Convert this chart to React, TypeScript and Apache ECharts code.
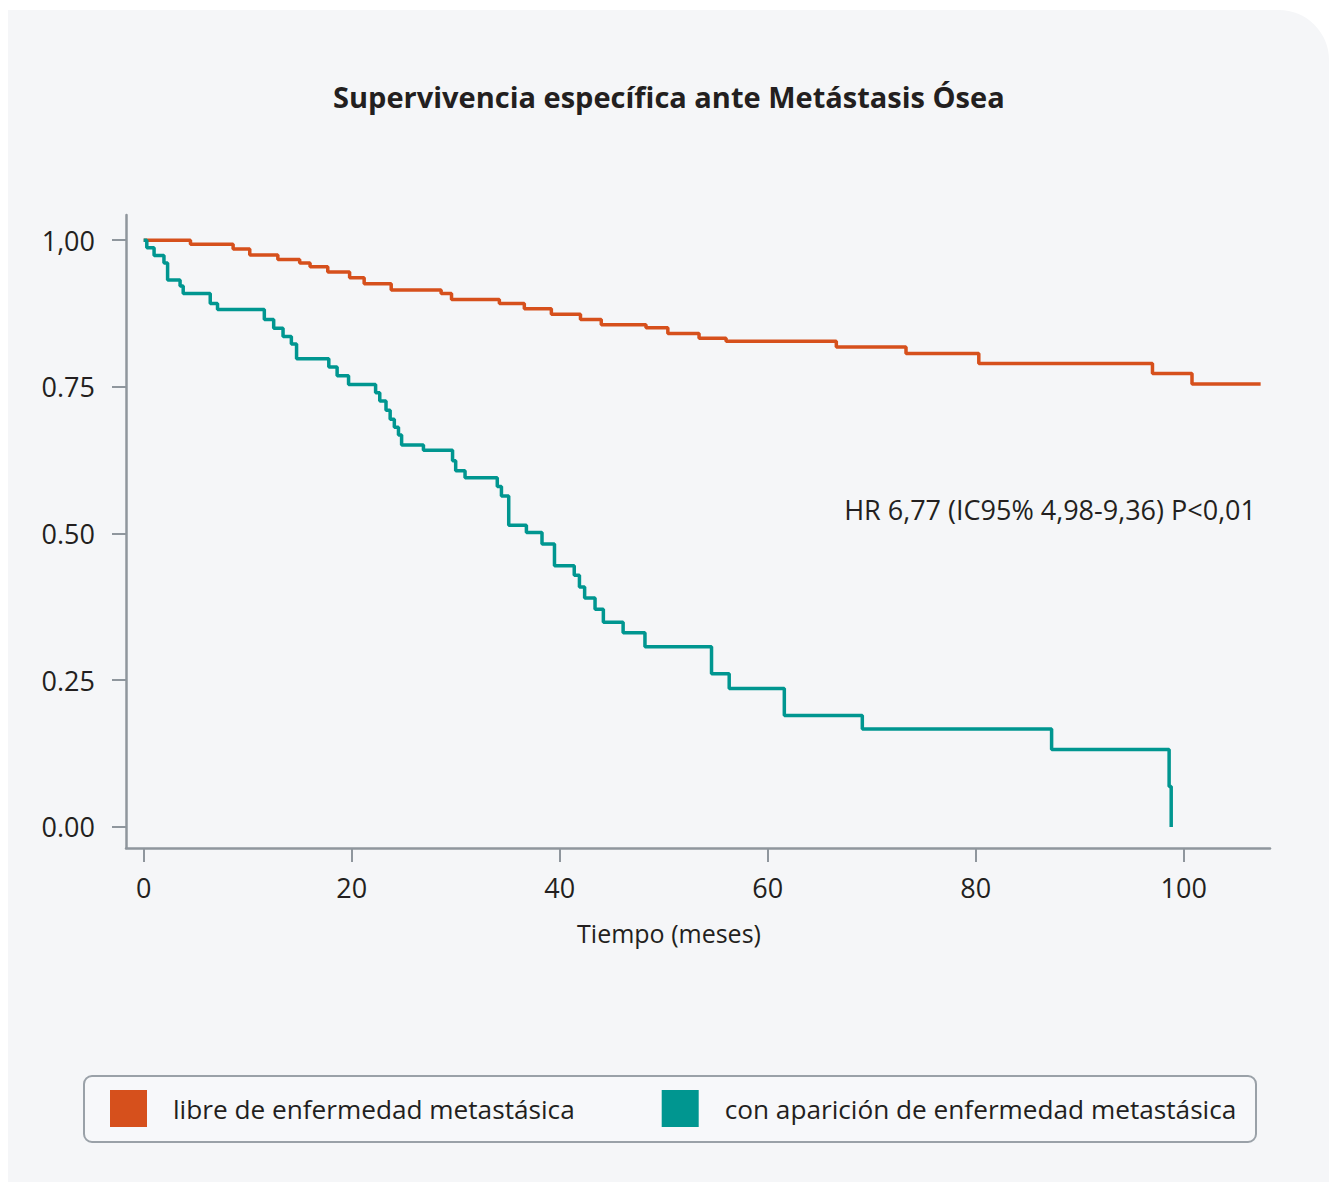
import React, { useEffect, useRef } from "react";
import * as echarts from "echarts";

const title = "Supervivencia específica ante Metástasis Ósea";
const seriesNames = ["libre de enfermedad metastásica", "con aparición de enfermedad metastásica"];
const xTicks = [0, 20, 40, 60, 80, 100];
const yTicks = [0, 0.25, 0.5, 0.75, 1];
const hrText = "HR 6,77 (IC95% 4,98-9,36) P<0,01";
const xName = "Tiempo (meses)";

// libre de enfermedad metastásica: [month, survival]
const libreMonths = [0, 4.5, 8.6, 10.2, 12.9, 15.0, 16.0, 17.7, 19.8, 21.2, 23.8, 28.6, 29.6, 34.2, 36.6, 39.2, 42.0, 44.0, 48.3, 50.4, 53.4, 56.0, 66.6, 73.3, 80.3, 97.0, 100.8, 107.4];
const libreValues = [1.0, 0.993, 0.985, 0.975, 0.967, 0.961, 0.955, 0.946, 0.936, 0.926, 0.915, 0.909, 0.899, 0.892, 0.883, 0.874, 0.865, 0.856, 0.851, 0.841, 0.833, 0.828, 0.818, 0.807, 0.79, 0.773, 0.755, 0.755];

// con aparición de enfermedad metastásica: [month, survival]
const conMonths = [0, 0.3, 1.0, 1.95, 2.3, 3.5, 3.8, 6.4, 7.1, 11.6, 12.5, 13.4, 14.2, 14.7, 17.8, 18.6, 19.7, 22.3, 22.7, 23.3, 23.7, 24.1, 24.5, 24.8, 26.9, 29.7, 30.0, 30.9, 34.0, 34.4, 35.1, 36.8, 38.3, 39.5, 41.4, 41.9, 42.4, 43.4, 44.2, 46.1, 48.2, 54.6, 56.3, 61.6, 69.1, 87.3, 98.6, 98.8];
const conValues = [1.0, 0.987, 0.974, 0.961, 0.932, 0.922, 0.909, 0.892, 0.882, 0.865, 0.85, 0.836, 0.823, 0.798, 0.784, 0.769, 0.754, 0.74, 0.726, 0.71, 0.695, 0.681, 0.668, 0.651, 0.642, 0.624, 0.607, 0.595, 0.58, 0.564, 0.514, 0.502, 0.482, 0.445, 0.429, 0.409, 0.39, 0.371, 0.349, 0.331, 0.307, 0.261, 0.236, 0.19, 0.167, 0.132, 0.069, 0.0];

const colors = ["#d6501c", "#009690"];
const textColor = "#231f20";
const axisColor = "#8f969d";
const font = "'Open Sans', 'Noto Sans', sans-serif";

export default function App() {
  const ref = useRef<HTMLDivElement>(null);
  useEffect(() => {
    document.body.style.margin = "0";
    const chart = echarts.init(ref.current!, null, { renderer: "svg" });
    const libre = libreMonths.map((m, i) => [m, libreValues[i]]);
    const con = conMonths.map((m, i) => [m, conValues[i]]);
    chart.setOption({
      animation: false,
      textStyle: { fontFamily: font, color: textColor },
      title: {
        text: title,
        left: 333,
        top: 82,
        padding: 0,
        textStyle: { fontFamily: font, fontWeight: "bold", fontSize: 29, color: textColor },
      },
      grid: { left: 126, right: 59, top: 215, bottom: 334, containLabel: false },
      xAxis: {
        type: "value",
        min: -1.7,
        max: 108.3,
        axisLine: { show: true, onZero: false, lineStyle: { color: axisColor, width: 2.5 } },
        axisTick: { show: true, length: 14, customValues: xTicks, lineStyle: { color: axisColor, width: 2 } },
        axisLabel: { customValues: xTicks, margin: 26, fontSize: 27, color: textColor, fontFamily: font },
        splitLine: { show: false },
      },
      yAxis: {
        type: "value",
        min: -0.036,
        max: 1.043,
        axisLine: { show: true, onZero: false, lineStyle: { color: axisColor, width: 2.5 } },
        axisTick: { show: true, length: 14, customValues: yTicks, lineStyle: { color: axisColor, width: 2 } },
        axisLabel: {
          customValues: yTicks,
          margin: 31,
          fontSize: 27,
          color: textColor,
          fontFamily: font,
          formatter: (v: number) => (v === 1 ? "1,00" : v.toFixed(2)),
        },
        splitLine: { show: false },
      },
      legend: {
        left: 110,
        top: 1090,
        padding: 0,
        itemWidth: 37,
        itemHeight: 37,
        itemGap: 87,
        icon: "rect",
        data: seriesNames,
        textStyle: { fontSize: 26.2, color: textColor, fontFamily: font, padding: [0, 0, 0, 21], width: 403 },
      },
      graphic: [
        {
          type: "rect",
          shape: { x: 84, y: 1076, width: 1172, height: 66, r: 8 },
          style: { fill: "#f7f8fa", stroke: "#9aa1a8", lineWidth: 2 },
          z: -1,
        },
        {
          type: "text",
          x: 1256,
          y: 509,
          style: { text: hrText, fontSize: 27, fill: textColor, fontFamily: font, align: "right", verticalAlign: "middle" },
        },
        {
          type: "text",
          x: 669,
          y: 933,
          style: { text: xName, fontSize: 25, fill: textColor, fontFamily: font, align: "center", verticalAlign: "middle" },
        },
      ],
      series: [
        {
          name: seriesNames[0],
          type: "line",
          step: "end",
          data: libre,
          showSymbol: false,
          symbol: "none",
          itemStyle: { color: colors[0] },
          lineStyle: { color: colors[0], width: 3.5 },
        },
        {
          name: seriesNames[1],
          type: "line",
          step: "end",
          data: con,
          showSymbol: false,
          symbol: "none",
          itemStyle: { color: colors[1] },
          lineStyle: { color: colors[1], width: 3.5 },
        },
      ],
    });
    return () => chart.dispose();
  }, []);
  return (
    <div style={{ position: "relative", width: 1329, height: 1182, background: "#ffffff" }}>
      <div
        style={{
          position: "absolute",
          left: 8,
          top: 10,
          width: 1321,
          height: 1172,
          background: "#f5f6f8",
          borderTopRightRadius: 50,
        }}
      />
      <div ref={ref} style={{ position: "absolute", left: 0, top: 0, width: 1329, height: 1182 }} />
    </div>
  );
}
